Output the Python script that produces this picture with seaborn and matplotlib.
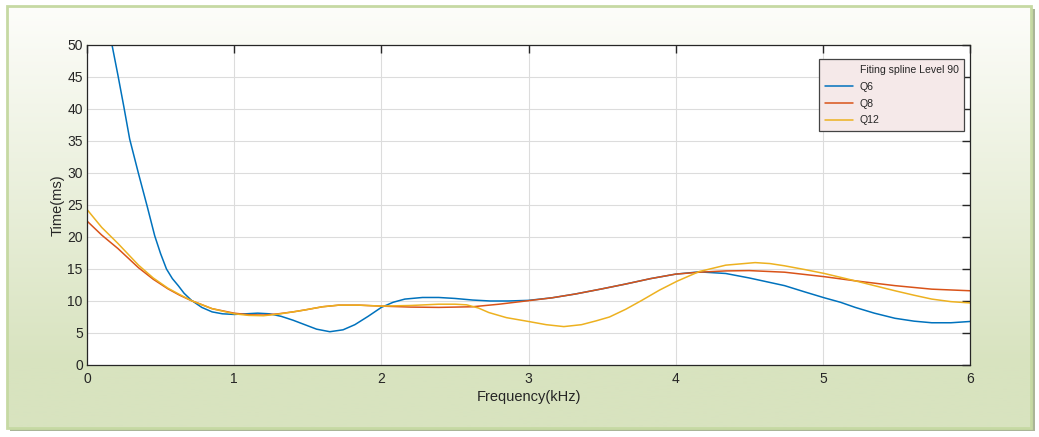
import numpy as np
import pandas as pd
import matplotlib
matplotlib.use('Agg')
import matplotlib.pyplot as plt
import seaborn as sns
from matplotlib.lines import Line2D
from matplotlib.patches import Rectangle
from matplotlib.colors import to_rgb

# %% Data

q6_f = [0.00, 0.05, 0.10, 0.15, 0.17, 0.21, 0.25, 0.29, 0.35, 0.41, 0.46, 0.50,
        0.54, 0.58, 0.62, 0.66, 0.71, 0.78, 0.85, 0.92, 1.00, 1.08, 1.16, 1.24,
        1.32, 1.40, 1.48, 1.56, 1.65, 1.74, 1.82, 1.91, 2.00, 2.08, 2.16, 2.28,
        2.39, 2.50, 2.62, 2.74, 2.86, 3.00, 3.16, 3.32, 3.50, 3.66, 3.83, 4.00,
        4.16, 4.34, 4.50, 4.62, 4.74, 4.88, 5.01, 5.12, 5.22, 5.35, 5.49, 5.62,
        5.74, 5.87, 6.00]
q6_t = [74.0, 67.0, 59.5, 52.8, 50.0, 45.3, 40.4, 35.3, 29.9, 24.7, 20.2, 17.4,
        15.0, 13.5, 12.4, 11.2, 10.1, 9.0, 8.3, 8.0, 7.9, 8.0, 8.1, 8.0,
        7.6, 7.0, 6.3, 5.6, 5.2, 5.5, 6.3, 7.6, 9.0, 9.8, 10.3, 10.55,
        10.55, 10.4, 10.15, 10.0, 10.0, 10.1, 10.5, 11.1, 11.9, 12.65, 13.5, 14.2,
        14.55, 14.3, 13.6, 13.0, 12.4, 11.4, 10.5, 9.8, 9.0, 8.1, 7.3, 6.85,
        6.6, 6.6, 6.8]

q8_f = [0.00, 0.10, 0.21, 0.35, 0.45, 0.55, 0.63, 0.71, 0.85, 1.00, 1.10, 1.20,
        1.30, 1.40, 1.48, 1.60, 1.71, 1.85, 2.00, 2.20, 2.39, 2.62, 2.80, 3.00,
        3.16, 3.32, 3.50, 3.66, 3.83, 4.00, 4.16, 4.34, 4.50, 4.74, 5.01, 5.22,
        5.49, 5.74, 6.00]
q8_t = [22.5, 20.3, 18.2, 15.2, 13.4, 11.9, 10.9, 10.05, 8.8, 8.1, 7.85, 7.8,
        8.0, 8.3, 8.6, 9.1, 9.35, 9.35, 9.2, 9.05, 9.0, 9.1, 9.5, 10.05,
        10.5, 11.1, 11.9, 12.65, 13.5, 14.2, 14.5, 14.7, 14.75, 14.5, 13.8, 13.15,
        12.4, 11.85, 11.6]

q12_f = [0.00, 0.10, 0.21, 0.35, 0.45, 0.55, 0.63, 0.71, 0.85, 1.00, 1.10, 1.20,
         1.30, 1.40, 1.48, 1.60, 1.71, 1.85, 2.00, 2.20, 2.39, 2.50, 2.58, 2.66,
         2.73, 2.85, 3.00, 3.12, 3.24, 3.36, 3.46, 3.55, 3.66, 3.77, 3.89, 4.01,
         4.16, 4.34, 4.54, 4.64, 4.74, 4.88, 5.01, 5.12, 5.22, 5.35, 5.49, 5.62,
         5.74, 5.87, 6.00]
q12_t = [24.3, 21.5, 19.0, 15.6, 13.6, 12.0, 11.0, 10.05, 8.8, 8.0, 7.75, 7.7,
         7.95, 8.3, 8.6, 9.1, 9.35, 9.35, 9.2, 9.3, 9.5, 9.5, 9.4, 8.9,
         8.2, 7.4, 6.8, 6.3, 6.0, 6.3, 6.9, 7.5, 8.7, 10.1, 11.7, 13.1,
         14.6, 15.6, 16.0, 15.85, 15.5, 14.9, 14.3, 13.7, 13.15, 12.4, 11.6, 10.9,
         10.3, 9.9, 9.7]

series_names = ['Q6', 'Q8', 'Q12']
colours = {'Q6': '#0072BD', 'Q8': '#D95319', 'Q12': '#EDB120'}

x_ticks = [0, 1, 2, 3, 4, 5, 6]
y_ticks = [0, 5, 10, 15, 20, 25, 30, 35, 40, 45, 50]

# %% Build long dataframe

df = pd.concat([
    pd.DataFrame({'freq': q6_f, 'time': q6_t, 'series': 'Q6'}),
    pd.DataFrame({'freq': q8_f, 'time': q8_t, 'series': 'Q8'}),
    pd.DataFrame({'freq': q12_f, 'time': q12_t, 'series': 'Q12'}),
], ignore_index=True)

# %% Figure

sns.set_style('white')
plt.rcParams['font.family'] = ['Liberation Sans', 'DejaVu Sans']

W, H = 1039, 437
fig = plt.figure(figsize=(W / 100, H / 100), dpi=100)
fig.patch.set_facecolor('white')

#Background panel with gradient and frame
bg = fig.add_axes([0, 0, 1, 1], zorder=-5)
bg.axis('off')
bg.add_patch(Rectangle((10, 9), 1025, 422, facecolor='#aab597',
                       edgecolor='none', zorder=0))
top_c = np.array(to_rgb('#fdfdfa'))
bot_c = np.array(to_rgb('#d8e3bf'))
frac = np.clip(np.linspace(0, 1, 200) / 0.85, 0, 1)[:, None]
grad = (top_c * (1 - frac) + bot_c * frac)[:, None, :]
bg.imshow(grad, extent=(7, 1031, 428, 6), aspect='auto',
          interpolation='bilinear', zorder=1)
bg.add_patch(Rectangle((7, 6), 1024, 422, facecolor='none',
                       edgecolor='#c6d9a3', lw=2, zorder=2))
bg.set_xlim(0, W)
bg.set_ylim(H, 0)

#Main axes
ax = fig.add_axes([87 / W, 1 - 365 / H, (970 - 87) / W, (365 - 45) / H])
ax.set_facecolor('white')

sns.lineplot(data=df, x='freq', y='time', hue='series', hue_order=series_names,
             palette=colours, estimator=None, sort=False, lw=1.1,
             legend=False, ax=ax)

ax.set_xlim(0, 6)
ax.set_ylim(0, 50)
ax.set_xticks(x_ticks)
ax.set_yticks(y_ticks)
ax.grid(True, color='#dcdcdc', lw=0.8)
ax.set_axisbelow(True)
ax.tick_params(direction='in', length=6, width=1, top=True, right=True,
               colors='#262626', labelsize=10)
ax.tick_params(axis='y', pad=3)
ax.tick_params(axis='x', pad=5)
for sp in ax.spines.values():
    sp.set_color('#262626')
    sp.set_linewidth(0.9)

ax.set_xlabel('Frequency(kHz)', fontsize=10.5, color='#262626', labelpad=3)
ax.set_ylabel('Time(ms)', fontsize=10.5, color='#262626', labelpad=2)

#Legend with a title row that has no line
handles = [Line2D([], [], color='none')]
handles += [Line2D([], [], color=colours[s], lw=1.1) for s in series_names]
labels = ['Fiting spline Level 90'] + series_names
leg = ax.legend(handles, labels, loc='upper left',
                bbox_to_anchor=(819 / W, 1 - 59 / H), bbox_transform=fig.transFigure,
                borderaxespad=0, fancybox=False, framealpha=1, fontsize=7.6,
                handlelength=2.7, handletextpad=0.6, labelspacing=0.65,
                borderpad=0.55)
leg.get_frame().set_facecolor('#f5e9e9')
leg.get_frame().set_edgecolor('#444444')
leg.get_frame().set_linewidth(0.9)

fig.savefig('out.png', dpi=100, facecolor=fig.get_facecolor())
